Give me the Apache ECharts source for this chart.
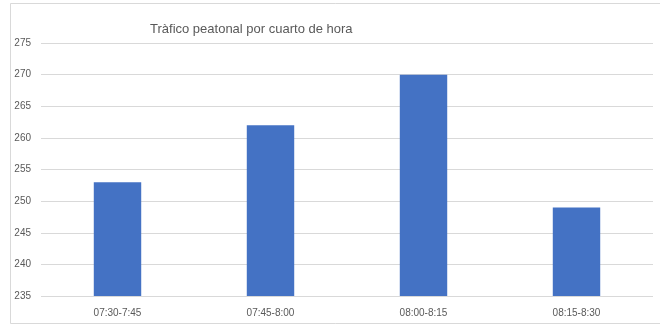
<!DOCTYPE html>
<html>
<head>
<meta charset="utf-8">
<script src="https://cdn.jsdelivr.net/npm/echarts@6/dist/echarts.min.js"></script>
<style>
  html, body { margin: 0; padding: 0; background: #fff; }
  #chart { width: 660px; height: 327px; }
</style>
</head>
<body>
<div id="chart"></div>
<script>
// Pedestrian traffic per quarter hour
const categories = ['07:30-7:45', '07:45-8:00', '08:00-8:15', '08:15-8:30'];
const pedestrians = [253, 262, 270, 249];
const yMin = 235, yMax = 275, yStep = 5;

const chart = echarts.init(document.getElementById('chart'), null, { renderer: 'canvas' });
const font = '"Liberation Sans", Arial, sans-serif';

chart.setOption({
  animation: false,
  backgroundColor: '#ffffff',
  title: {
    text: 'Tràfico peatonal por cuarto de hora',
    left: 145,
    top: 18,
    textStyle: { fontFamily: font, fontSize: 13, fontWeight: 'normal', color: '#595959' }
  },
  graphic: [{
    type: 'rect',
    shape: { x: 10.5, y: 3.5, width: 700, height: 320 },
    style: { fill: 'none', stroke: '#d9d9d9', lineWidth: 1 },
    silent: true
  }],
  grid: { left: 41, right: 7, top: 43, bottom: 31, containLabel: false },
  xAxis: {
    type: 'category',
    data: categories,
    axisTick: { show: false },
    axisLine: { show: false },
    axisLabel: { fontFamily: font, fontSize: 10, color: '#595959', margin: 12 }
  },
  yAxis: {
    type: 'value',
    min: yMin, max: yMax, interval: yStep,
    axisLine: { show: false },
    axisTick: { show: false },
    splitLine: { lineStyle: { color: '#d9d9d9', width: 1 } },
    axisLabel: { fontFamily: font, fontSize: 10, color: '#595959', margin: 10 }
  },
  series: [{
    type: 'bar',
    data: pedestrians,
    barWidth: '31%',
    itemStyle: { color: '#4472c4' }
  }]
});
</script>
</body>
</html>
